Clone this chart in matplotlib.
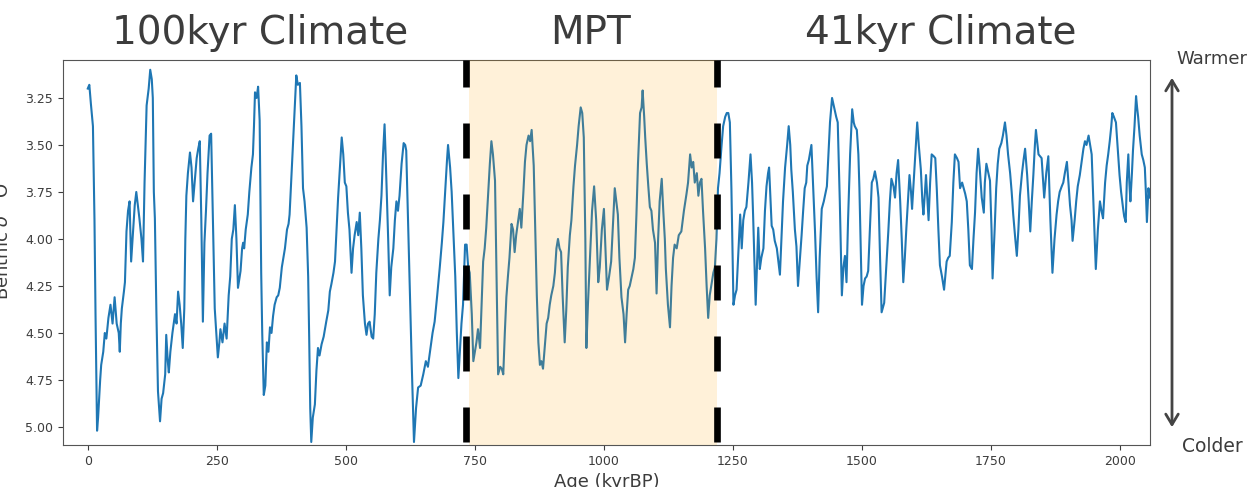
import matplotlib
matplotlib.use("Agg")
import numpy as np
import matplotlib.pyplot as plt

# --- data: benthic d18O stack (age in kyr BP) ---
# 100kyr part
age_100k = [
    0, 3, 6, 10, 13, 15, 18, 20, 24, 26,
    30, 33, 36, 40, 44, 48, 52, 56, 60, 62,
    64, 66, 70, 72, 75, 78, 81, 84, 88, 91,
    94, 97, 100, 104, 107, 110, 114, 118, 121, 124,
    126, 128, 130, 133, 136, 140, 143, 146, 150, 152,
    155, 157, 160, 164, 169, 172, 175, 178, 181, 184,
    187, 189, 191, 194, 198, 201, 204, 207, 211, 214,
    217, 220, 223, 226, 229, 232, 236, 239, 242, 246,
    249, 252, 255, 257, 261, 265, 269, 273, 276, 279,
    282, 285, 288, 291, 296, 299, 301, 303, 306, 310,
    313, 317, 320, 322, 324, 327, 330, 333, 336, 338,
    341, 344, 347, 350, 353, 356, 359, 362, 366, 369,
    372, 376, 379, 382, 386, 389, 391, 394, 398, 401,
    404, 407, 411, 414, 417, 420, 424, 427, 429, 431,
    433, 436, 440, 443, 446, 449, 453, 457, 462, 466,
    469, 472, 476, 479, 482, 485, 489, 492, 495, 498,
    501, 504, 507, 511, 514, 517, 521, 524, 527, 530,
    533, 537, 540, 543, 546, 550, 553, 556, 559, 563,
    566, 569, 572, 575, 577, 579, 582, 585, 588, 592,
    595, 598, 601, 604, 608, 612, 615, 617, 620, 624,
    628, 632, 636, 640, 645, 650, 655, 659, 663, 668,
    672, 677, 682, 686, 689, 693, 696, 698, 702, 705,
    708, 712, 715, 718, 721, 724, 727,
]
d18o_100k = [
    3.20, 3.18, 3.28, 3.40, 3.90, 4.40, 5.02, 4.95, 4.75, 4.67,
    4.60, 4.50, 4.53, 4.42, 4.35, 4.45, 4.31, 4.45, 4.50, 4.60,
    4.45, 4.37, 4.28, 4.23, 3.96, 3.85, 3.80, 4.12, 3.95, 3.82,
    3.75, 3.82, 3.89, 4.00, 4.12, 3.70, 3.29, 3.20, 3.10, 3.15,
    3.25, 3.75, 3.89, 4.40, 4.81, 4.97, 4.85, 4.82, 4.72, 4.51,
    4.65, 4.71, 4.60, 4.50, 4.40, 4.45, 4.28, 4.35, 4.45, 4.58,
    4.37, 4.00, 3.77, 3.65, 3.54, 3.62, 3.80, 3.70, 3.57, 3.52,
    3.48, 3.90, 4.44, 4.02, 3.85, 3.65, 3.45, 3.44, 3.85, 4.37,
    4.50, 4.63, 4.55, 4.48, 4.55, 4.45, 4.53, 4.30, 4.20, 4.00,
    3.95, 3.82, 4.00, 4.26, 4.17, 4.05, 4.02, 4.05, 3.95, 3.87,
    3.75, 3.62, 3.55, 3.40, 3.22, 3.25, 3.19, 3.37, 4.18, 4.50,
    4.83, 4.78, 4.55, 4.60, 4.47, 4.50, 4.41, 4.35, 4.31, 4.30,
    4.26, 4.15, 4.10, 4.05, 3.95, 3.92, 3.87, 3.70, 3.48, 3.30,
    3.13, 3.18, 3.17, 3.40, 3.73, 3.80, 3.94, 4.20, 4.53, 4.90,
    5.08, 4.95, 4.88, 4.70, 4.58, 4.62, 4.56, 4.52, 4.44, 4.38,
    4.28, 4.24, 4.18, 4.12, 3.95, 3.78, 3.60, 3.46, 3.55, 3.70,
    3.72, 3.86, 3.95, 4.18, 4.05, 3.98, 3.91, 3.98, 3.86, 4.05,
    4.30, 4.45, 4.51, 4.45, 4.44, 4.52, 4.53, 4.40, 4.18, 4.00,
    3.90, 3.77, 3.55, 3.39, 3.55, 3.73, 4.00, 4.30, 4.15, 4.05,
    3.90, 3.80, 3.85, 3.77, 3.60, 3.49, 3.50, 3.53, 3.85, 4.26,
    4.70, 5.08, 4.90, 4.79, 4.78, 4.72, 4.65, 4.68, 4.60, 4.50,
    4.44, 4.30, 4.15, 4.02, 3.91, 3.72, 3.58, 3.50, 3.62, 3.75,
    3.94, 4.20, 4.50, 4.74, 4.60, 4.45, 4.35,
]

# MPT part
age_mpt = [
    731, 734, 737, 740, 744, 747, 750, 753, 756, 760,
    763, 766, 769, 772, 776, 779, 782, 785, 789, 792,
    795, 799, 802, 805, 808, 811, 814, 817, 821, 824,
    827, 830, 834, 837, 840, 844, 847, 850, 854, 857,
    860, 864, 867, 870, 873, 876, 879, 882, 886, 889,
    892, 895, 898, 902, 905, 908, 911, 914, 917, 920,
    924, 927, 930, 934, 937, 941, 944, 948, 951, 955,
    958, 961, 964, 966, 969, 973, 977, 981, 985, 989,
    992, 996, 1000, 1003, 1006, 1010, 1014, 1017, 1021, 1024,
    1027, 1030, 1034, 1038, 1041, 1044, 1047, 1050, 1054, 1057,
    1060, 1063, 1066, 1070, 1073, 1075, 1078, 1080, 1083, 1086,
    1089, 1092, 1095, 1099, 1102, 1105, 1108, 1112, 1115, 1118,
    1120, 1124, 1128, 1131, 1134, 1137, 1141, 1145, 1150, 1155,
    1160, 1163, 1167, 1170, 1173, 1176, 1180, 1183, 1186, 1189,
    1192, 1196, 1199, 1202, 1205, 1209, 1212, 1215,
]
d18o_mpt = [
    4.03, 4.03, 4.15, 4.18, 4.40, 4.65, 4.60, 4.55, 4.48, 4.58,
    4.35, 4.12, 4.05, 3.94, 3.75, 3.60, 3.48, 3.55, 3.69, 4.20,
    4.72, 4.68, 4.69, 4.72, 4.50, 4.31, 4.20, 4.10, 3.92, 3.95,
    4.07, 3.98, 3.90, 3.84, 3.94, 3.75, 3.59, 3.50, 3.45, 3.48,
    3.42, 3.61, 3.95, 4.30, 4.55, 4.67, 4.65, 4.69, 4.55, 4.45,
    4.42, 4.35, 4.30, 4.25, 4.18, 4.05, 4.00, 4.05, 4.07, 4.30,
    4.55, 4.38, 4.15, 3.98, 3.90, 3.72, 3.61, 3.50, 3.40, 3.30,
    3.33, 3.46, 4.00, 4.58, 4.35, 4.10, 3.85, 3.72, 3.90, 4.23,
    4.15, 3.95, 3.84, 4.05, 4.27, 4.20, 4.12, 3.95, 3.73, 3.80,
    3.87, 4.10, 4.31, 4.40, 4.55, 4.40, 4.27, 4.25, 4.20, 4.16,
    4.10, 3.87, 3.60, 3.33, 3.30, 3.21, 3.35, 3.46, 3.60, 3.72,
    3.83, 3.85, 3.95, 4.02, 4.29, 4.00, 3.80, 3.68, 3.85, 4.00,
    4.16, 4.35, 4.47, 4.25, 4.10, 4.03, 4.05, 3.98, 3.96, 3.85,
    3.76, 3.70, 3.55, 3.62, 3.59, 3.70, 3.65, 3.77, 3.70, 3.68,
    3.85, 4.05, 4.25, 4.42, 4.30, 4.23, 4.18, 4.15,
]

# 41kyr part
age_41k = [
    1218, 1221, 1224, 1228, 1231, 1235, 1238, 1241, 1244, 1247,
    1251, 1254, 1257, 1260, 1264, 1267, 1270, 1273, 1276, 1280,
    1284, 1287, 1289, 1292, 1294, 1297, 1299, 1302, 1305, 1309,
    1312, 1315, 1318, 1320, 1323, 1325, 1328, 1331, 1335, 1338,
    1341, 1344, 1347, 1351, 1355, 1358, 1361, 1363, 1366, 1370,
    1373, 1376, 1380, 1383, 1386, 1389, 1392, 1394, 1397, 1402,
    1405, 1409, 1412, 1415, 1418, 1422, 1426, 1429, 1432, 1435,
    1438, 1442, 1446, 1450, 1453, 1457, 1461, 1464, 1467, 1470,
    1473, 1477, 1481, 1484, 1486, 1490, 1493, 1495, 1498, 1500,
    1503, 1506, 1509, 1512, 1516, 1519, 1522, 1525, 1529, 1532,
    1535, 1538, 1543, 1547, 1551, 1554, 1557, 1561, 1564, 1567,
    1570, 1574, 1577, 1580, 1583, 1586, 1589, 1592, 1595, 1597,
    1600, 1603, 1607, 1610, 1614, 1617, 1619, 1622, 1624, 1627,
    1629, 1632, 1635, 1639, 1642, 1645, 1648, 1651, 1655, 1659,
    1662, 1664, 1667, 1670, 1674, 1677, 1680, 1684, 1687, 1690,
    1694, 1697, 1700, 1703, 1706, 1709, 1713, 1716, 1719, 1722,
    1725, 1728, 1732, 1736, 1738, 1741, 1745, 1748, 1751, 1753,
    1757, 1760, 1763, 1766, 1770, 1773, 1777, 1780, 1783, 1787,
    1790, 1793, 1797, 1800, 1803, 1806, 1810, 1813, 1816, 1820,
    1823, 1826, 1829, 1832, 1835, 1837, 1840, 1842, 1845, 1848,
    1851, 1853, 1857, 1861, 1865, 1869, 1873, 1877, 1880, 1883,
    1887, 1890, 1893, 1897, 1900, 1903, 1906, 1908, 1912, 1915,
    1918, 1922, 1926, 1929, 1932, 1935, 1939, 1942, 1945, 1949,
    1953, 1957, 1961, 1964, 1967, 1971, 1974, 1977, 1980, 1983,
    1985, 1988, 1992, 1995, 1999, 2002, 2006, 2008, 2011, 2013,
    2016, 2018, 2020, 2023, 2025, 2028, 2031, 2033, 2035, 2038,
    2042, 2045, 2048, 2050, 2052, 2055, 2057,
]
d18o_41k = [
    4.00, 3.73, 3.65, 3.50, 3.40, 3.35, 3.33, 3.33, 3.38, 3.73,
    4.35, 4.30, 4.27, 4.10, 3.87, 4.05, 3.90, 3.85, 3.83, 3.70,
    3.55, 3.70, 3.87, 4.15, 4.35, 4.10, 3.94, 4.16, 4.10, 4.05,
    3.85, 3.72, 3.65, 3.62, 3.80, 3.93, 3.95, 4.01, 4.05, 4.12,
    4.19, 4.00, 3.80, 3.62, 3.50, 3.40, 3.50, 3.63, 3.75, 3.95,
    4.04, 4.25, 4.10, 3.98, 3.85, 3.73, 3.70, 3.61, 3.58, 3.50,
    3.70, 3.96, 4.20, 4.39, 4.10, 3.84, 3.80, 3.76, 3.72, 3.55,
    3.38, 3.25, 3.30, 3.35, 3.38, 3.80, 4.30, 4.15, 4.09, 4.23,
    3.90, 3.55, 3.31, 3.38, 3.40, 3.42, 3.55, 3.73, 4.10, 4.35,
    4.25, 4.21, 4.20, 4.17, 3.90, 3.70, 3.68, 3.64, 3.70, 3.78,
    4.10, 4.39, 4.34, 4.15, 3.96, 3.80, 3.68, 3.72, 3.78, 3.65,
    3.58, 3.80, 4.00, 4.23, 4.10, 3.94, 3.80, 3.66, 3.75, 3.84,
    3.70, 3.55, 3.38, 3.50, 3.63, 3.80, 3.87, 3.75, 3.66, 3.80,
    3.90, 3.70, 3.55, 3.56, 3.57, 3.74, 3.95, 4.14, 4.20, 4.27,
    4.18, 4.12, 4.10, 4.09, 3.91, 3.70, 3.55, 3.57, 3.59, 3.73,
    3.70, 3.73, 3.76, 3.80, 3.95, 4.14, 4.16, 4.00, 3.86, 3.65,
    3.52, 3.62, 3.78, 3.86, 3.70, 3.60, 3.65, 3.69, 3.95, 4.21,
    3.95, 3.73, 3.60, 3.52, 3.49, 3.45, 3.38, 3.45, 3.55, 3.65,
    3.75, 3.87, 4.00, 4.09, 3.95, 3.77, 3.65, 3.58, 3.52, 3.66,
    3.80, 3.96, 3.80, 3.66, 3.50, 3.42, 3.50, 3.55, 3.56, 3.57,
    3.70, 3.78, 3.65, 3.56, 3.90, 4.18, 4.00, 3.87, 3.80, 3.75,
    3.72, 3.70, 3.65, 3.59, 3.70, 3.82, 3.90, 4.01, 3.90, 3.80,
    3.72, 3.66, 3.58, 3.52, 3.48, 3.50, 3.45, 3.50, 3.55, 3.85,
    4.16, 3.95, 3.80, 3.85, 3.89, 3.70, 3.61, 3.55, 3.48, 3.40,
    3.33, 3.35, 3.38, 3.50, 3.66, 3.75, 3.84, 3.88, 3.91, 3.70,
    3.55, 3.70, 3.80, 3.65, 3.53, 3.40, 3.24, 3.30, 3.35, 3.45,
    3.55, 3.58, 3.62, 3.75, 3.91, 3.73, 3.78,
]

mpt_span = (739, 1219)       # shaded band
mpt_lines = (733, 1220)      # dashed boundaries
section_titles = ["100kyr Climate", "MPT", "41kyr Climate"]

age = np.array(age_100k + age_mpt + age_41k)
d18o = np.array(d18o_100k + d18o_mpt + d18o_41k)

TXT = "#3c3c3c"
W, H = 1254, 487

fig = plt.figure(figsize=(W / 100, H / 100), dpi=100)
ax = fig.add_axes([63 / W, 42 / H, (1150 - 63) / W, (445 - 60) / H])

ax.plot(age, d18o, color="#1f77b4", lw=1.5, zorder=2)

# MPT band drawn over the line (gives the greyish line inside it)
ax.axvspan(*mpt_span, color="orange", alpha=0.15, lw=0, zorder=3)
for xv in mpt_lines:
    ax.axvline(xv, color="black", lw=4.8, linestyle=(10.2, (5.25, 5.4)), zorder=4)

ax.set_xlim(-48, 2058)
ax.set_ylim(5.096, 3.048)
ax.set_yticks([3.25, 3.50, 3.75, 4.00, 4.25, 4.50, 4.75, 5.00])
ax.set_xticks([0, 250, 500, 750, 1000, 1250, 1500, 1750, 2000])
ax.tick_params(labelsize=9, colors=TXT)
for s in ax.spines.values():
    s.set_color("#555555")

ax.set_ylabel(r"Benthic $\delta^{18}$O", fontsize=13, color=TXT)
ax.yaxis.set_label_coords((13 - 63) / (1150 - 63), 0.53)
ax.set_xlabel("Age (kyrBP)", fontsize=13, color=TXT)
ax.xaxis.set_label_coords(0.5, (445 - 473) / (445 - 60))

# section titles above the plot
for label, xp in zip(section_titles, [260, 590, 941]):
    fig.text(xp / W, 1 - 33 / H, label, fontsize=28, color=TXT,
             ha="center", va="center")

# warmer / colder arrow on the right
ax.annotate("", xy=(1172, H - 75), xytext=(1172, H - 430),
            xycoords="figure pixels", textcoords="figure pixels",
            arrowprops=dict(arrowstyle="<->,head_length=0.75,head_width=0.45",
                            color="#444444", lw=2))
fig.text(1212 / W, 1 - 59 / H, "Warmer", fontsize=13, color=TXT,
         ha="center", va="center")
fig.text(1212 / W, 1 - 446 / H, "Colder", fontsize=13.5, color=TXT,
         ha="center", va="center")

fig.savefig("out.png", dpi=100)
